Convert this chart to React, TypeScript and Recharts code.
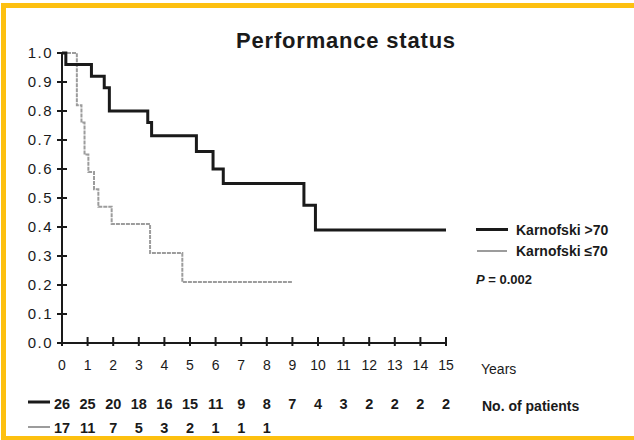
import { LineChart, Line, XAxis, YAxis, Legend } from 'recharts'

// Kaplan-Meier steps: time in years, survival fraction
const highTimes = [0, 0.15, 1.15, 1.65, 1.85, 3.35, 3.5, 5.25, 5.9, 6.3, 9.45, 9.9, 15]
const highSurv = [1, 0.96, 0.92, 0.88, 0.8, 0.76, 0.715, 0.66, 0.6, 0.55, 0.475, 0.39, 0.39]

const lowTimes = [0, 0.58, 0.76, 0.88, 1.03, 1.25, 1.42, 1.94, 3.44, 4.7, 9.0]
const lowSurv = [1, 0.82, 0.76, 0.65, 0.59, 0.53, 0.47, 0.41, 0.31, 0.21, 0.21]

const yearTicks = [0, 1, 2, 3, 4, 5, 6, 7, 8, 9, 10, 11, 12, 13, 14, 15]
const survTicks = [0, 0.1, 0.2, 0.3, 0.4, 0.5, 0.6, 0.7, 0.8, 0.9, 1.0]

// patients at risk per year
const highAtRisk = [26, 25, 20, 18, 16, 15, 11, 9, 8, 7, 4, 3, 2, 2, 2, 2]
const lowAtRisk = [17, 11, 7, 5, 3, 2, 1, 1, 1]

const highData = highTimes.map((t, i) => ({ t, s: highSurv[i] }))
const lowData = lowTimes.map((t, i) => ({ t, s: lowSurv[i] }))

const FONT = '"Liberation Sans", Arial, sans-serif'
const INK = '#1a1a1a'
const GREY = '#9c9c9c'

function YearTick(props: any) {
  const { x, y, payload, index } = props
  return (
    <g>
      <line x1={x} x2={x} y1={y - 6} y2={y + 3} stroke={INK} strokeWidth={2} />
      <text x={x} y={y + 27} textAnchor="middle" fontSize={14} fill={INK} fontFamily={FONT}>
        {payload.value}
      </text>
      <text x={x} y={y + 66} textAnchor="middle" fontSize={14.5} fontWeight="bold" fill={INK} fontFamily={FONT}>
        {highAtRisk[index]}
      </text>
      {lowAtRisk[index] != null && (
        <text x={x} y={y + 90} textAnchor="middle" fontSize={14.5} fontWeight="bold" fill={INK} fontFamily={FONT}>
          {lowAtRisk[index]}
        </text>
      )}
      {index === 0 && (
        <g>
          <line x1={x - 34} x2={x - 12} y1={y + 59} y2={y + 59} stroke={INK} strokeWidth={3} />
          <line x1={x - 34} x2={x - 12} y1={y + 84} y2={y + 84} stroke={GREY} strokeWidth={2} />
        </g>
      )}
    </g>
  )
}

function SurvTick(props: any) {
  const { x, y, payload } = props
  return (
    <g>
      <line x1={x - 5} x2={x + 5} y1={y} y2={y} stroke={INK} strokeWidth={2} />
      <text x={x - 9} y={y + 5} textAnchor="end" fontSize={15} letterSpacing={1.5} fill={INK} fontFamily={FONT}>
        {payload.value.toFixed(1)}
      </text>
    </g>
  )
}

function KeyBox() {
  const row = { display: 'flex', alignItems: 'center', height: 21 }
  return (
    <div style={{ fontFamily: FONT, fontSize: 14, fontWeight: 'bold', color: INK, textAlign: 'left' }}>
      <div style={row}>
        <span style={{ width: 32, borderTop: `3px solid ${INK}`, marginRight: 8 }} />
        Karnofski &gt;70
      </div>
      <div style={row}>
        <span style={{ width: 30, borderTop: `2px solid ${GREY}`, marginLeft: 1, marginRight: 9 }} />
        Karnofski ≤70
      </div>
      <div style={{ marginTop: 11, fontSize: 13 }}>
        <i>P</i> = 0.002
      </div>
    </div>
  )
}

export default function App() {
  return (
    <div style={{ position: 'absolute', left: 0, top: 0, width: 634, height: 440, overflow: 'hidden', background: '#fff' }}>
      <div
        style={{
          position: 'absolute', left: 1, top: 3, width: 660, height: 438,
          boxSizing: 'border-box', border: '5px solid #FDC010',
        }}
      />
      <div
        style={{
          position: 'absolute', left: 0, top: 28, width: 692, textAlign: 'center',
          fontFamily: FONT, fontSize: 22, letterSpacing: 0.8, fontWeight: 'bold', color: INK,
        }}
      >
        Performance status
      </div>
      <div style={{ position: 'absolute', left: 481, top: 361, fontFamily: FONT, fontSize: 14, color: INK }}>
        Years
      </div>
      <div style={{ position: 'absolute', left: 482, top: 398, fontFamily: FONT, fontSize: 14, fontWeight: 'bold', color: INK }}>
        No. of patients
      </div>
      <LineChart width={634} height={440} margin={{ top: 53, right: 188, bottom: 7, left: 22 }}>
        <XAxis
          dataKey="t"
          type="number"
          domain={[0, 15]}
          ticks={yearTicks}
          interval={0}
          height={90}
          tickSize={0}
          tickMargin={0}
          tickLine={false}
          tick={<YearTick />}
          axisLine={{ stroke: INK, strokeWidth: 2 }}
          allowDuplicatedCategory={false}
        />
        <YAxis
          type="number"
          domain={[0, 1]}
          ticks={survTicks}
          interval={0}
          width={40}
          tickSize={0}
          tickMargin={0}
          tickLine={false}
          tick={<SurvTick />}
          axisLine={{ stroke: INK, strokeWidth: 2 }}
        />
        <Legend
          layout="vertical"
          verticalAlign="middle"
          align="center"
          content={() => <KeyBox />}
          wrapperStyle={{ position: 'absolute', left: 476, top: 219, width: 150 }}
        />
        <Line
          data={lowData}
          dataKey="s"
          type="stepAfter"
          stroke={GREY}
          strokeWidth={2}
          strokeDasharray="4 1"
          dot={false}
          isAnimationActive={false}
        />
        <Line
          data={highData}
          dataKey="s"
          type="stepAfter"
          stroke={INK}
          strokeWidth={3}
          dot={false}
          isAnimationActive={false}
        />
      </LineChart>
    </div>
  )
}
